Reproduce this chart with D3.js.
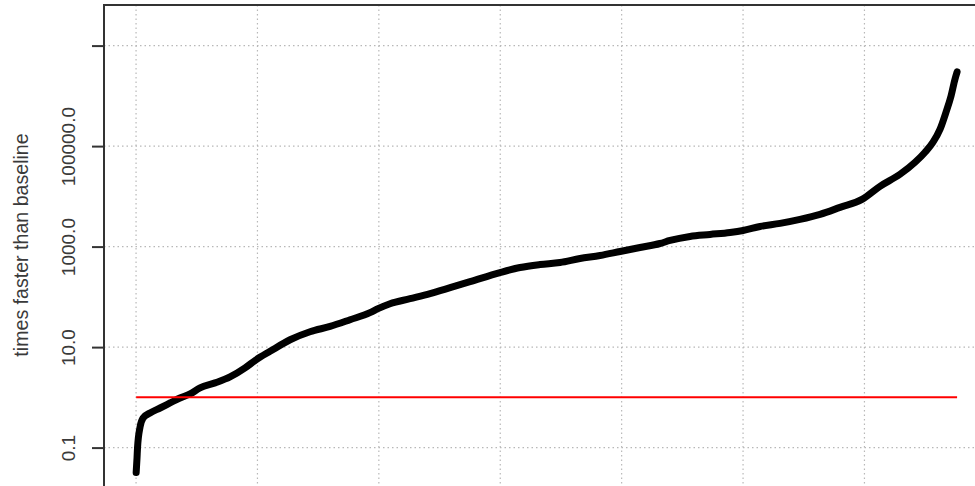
<!DOCTYPE html>
<html>
<head>
<meta charset="utf-8">
<script src="https://cdn.jsdelivr.net/npm/d3@7"></script>
<style>
  html, body { margin: 0; padding: 0; background: #fff; overflow: hidden; }
  svg { display: block; }
</style>
</head>
<body>
<svg id="chart" width="975" height="486"></svg>
<script>
// ---- data ----
const rank = [1, 8, 12, 33, 58, 115, 198, 280, 362, 445, 527, 651, 774, 898, 988, 1104,
  1269, 1433, 1598, 1763, 1927, 1993, 2092, 2257, 2422, 2587, 2751, 2998, 3163, 3328,
  3492, 3657, 3822, 3987, 4151, 4316, 4399, 4563, 4728, 4893, 5000, 5140, 5305, 5469,
  5634, 5799, 5980, 6128, 6293, 6417, 6499, 6565, 6623, 6672, 6713, 6746, 6763];
const speedup = [0.032, 0.062, 0.098, 0.257, 0.388, 0.489, 0.614, 0.773, 0.973, 1.17,
  1.54, 1.94, 2.55, 3.86, 5.58, 8.24, 14.0, 20.2, 25.8, 35.1, 48.4, 58.1, 73.1, 92.0,
  116, 152, 200, 304, 383, 439, 482, 579, 664, 799, 960, 1153, 1324, 1591, 1744, 1911,
  2095, 2518, 2893, 3475, 4375, 6031, 8710, 15850, 27500, 47700, 75500, 119700, 217400,
  475000, 991000, 2160000, 2990000];
const baselineValue = 1;
const yTickValues = [0.1, 10, 1000, 100000, 10000000];
const yTickLabels = ["0.1", "10.0", "1000.0", "100000.0", ""];
const xGridValues = [0, 1000, 2000, 3000, 4000, 5000, 6000, 7000];
const yLabel = "times faster than baseline";

// ---- layout ----
const svg = d3.select("#chart");
const plotLeft = 104, plotTop = 5;
const x = d3.scaleLinear().domain([-264, 7064]).range([plotLeft, plotLeft + 7328 * 0.1214]);
const y = d3.scaleLog().domain([0.01, Math.pow(10, 7.808)]).range([497.85, plotTop]);
const plotRight = x.range()[1], plotBottom = y.range()[0];

// grid (dotted light grey)
const grid = svg.append("g").attr("stroke", "#b8b8b8").attr("stroke-width", 1.2)
  .attr("stroke-dasharray", "1.5,3").attr("fill", "none");
grid.selectAll("line.v").data(xGridValues).join("line").attr("class", "v")
  .attr("x1", d => x(d)).attr("x2", d => x(d))
  .attr("y1", plotTop).attr("y2", plotBottom);
grid.selectAll("line.h").data(yTickValues).join("line").attr("class", "h")
  .attr("x1", plotLeft).attr("x2", plotRight)
  .attr("y1", d => y(d)).attr("y2", d => y(d));

// box
svg.append("rect")
  .attr("x", plotLeft).attr("y", plotTop)
  .attr("width", plotRight - plotLeft).attr("height", plotBottom - plotTop)
  .attr("fill", "none").attr("stroke", "#333").attr("stroke-width", 2);

// y axis
const yAxis = d3.axisLeft(y).tickValues(yTickValues)
  .tickFormat((d, i) => yTickLabels[i]).tickSize(12).tickPadding(0);
const ag = svg.append("g").attr("transform", `translate(${plotLeft},0)`).call(yAxis);
ag.select(".domain").remove();
ag.selectAll(".tick line").attr("stroke", "#333").attr("stroke-width", 2);
ag.selectAll(".tick text")
  .attr("x", 0).attr("y", 0).attr("dy", 0)
  .attr("transform", `translate(${75 - plotLeft},0) rotate(-90)`)
  .attr("text-anchor", "middle")
  .attr("font-family", "'Liberation Sans', Arial, sans-serif")
  .attr("font-size", 19)
  .attr("fill", "#3a3a3a");

// y label
svg.append("text")
  .attr("transform", `translate(28,${245}) rotate(-90)`)
  .attr("text-anchor", "middle")
  .attr("font-family", "'Liberation Sans', Arial, sans-serif")
  .attr("font-size", 19.6)
  .attr("fill", "#3a3a3a")
  .text(yLabel);

// data curve
const pts = rank.map((r, i) => [r, speedup[i]]);
svg.append("path")
  .datum(pts)
  .attr("fill", "none")
  .attr("stroke", "#000")
  .attr("stroke-width", 7)
  .attr("stroke-linejoin", "round")
  .attr("stroke-linecap", "round")
  .attr("d", d3.line().x(d => x(d[0])).y(d => y(d[1])).curve(d3.curveMonotoneX));

// baseline (red)
svg.append("line")
  .attr("x1", x(rank[0])).attr("x2", x(rank[rank.length - 1]))
  .attr("y1", y(baselineValue)).attr("y2", y(baselineValue))
  .attr("stroke", "#ff0000").attr("stroke-width", 2);
</script>
</body>
</html>
